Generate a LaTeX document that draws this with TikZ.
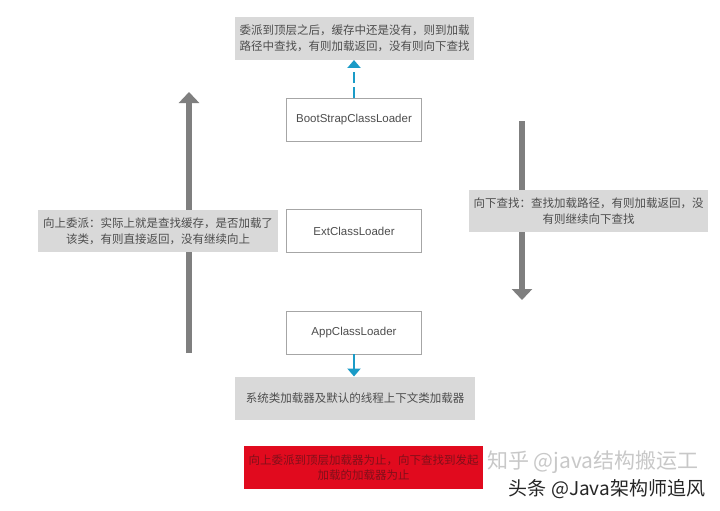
\documentclass[tikz,border=0pt]{standalone}
\usepackage{fontspec}
\setmainfont{Liberation Sans}
\newfontfamily\cjk{Noto Sans CJK SC}
\usetikzlibrary{arrows.meta}
\definecolor{boxgrey}{HTML}{D9D9D9}
\definecolor{txtgrey}{HTML}{4D4D4D}
\definecolor{linegrey}{HTML}{A6A6A6}
\definecolor{arrowgrey}{HTML}{7F7F7F}
\definecolor{cyanone}{HTML}{1A9BC7}
\definecolor{redone}{HTML}{E10A1E}
\definecolor{darkredtxt}{HTML}{80101A}
\definecolor{wmgrey}{HTML}{C8C8C8}
\definecolor{wmdark}{HTML}{262626}
\begin{document}
\begin{tikzpicture}[x=1pt,y=-1pt,
  every node/.style={inner sep=0pt, outer sep=0pt},
  greybox/.style={fill=boxgrey, text=txtgrey, font=\cjk\fontsize{11.5}{15.5}\selectfont, align=center, minimum height=43pt},
  loaderbox/.style={draw=linegrey, line width=0.9pt, fill=white, text=txtgrey, font=\fontsize{11.5}{14}\selectfont, minimum width=135pt, minimum height=43pt},
  bigarrow/.style={draw=arrowgrey, line width=6pt, -{Triangle[width=20pt,length=11pt]}},
  cyanarrow/.style={draw=cyanone, line width=2pt, -{Triangle[width=13pt,length=8pt]}},
  wmark/.style={font=\cjk\fontsize{19}{19}\selectfont}
]
\useasboundingbox (0,0) rectangle (720,511);
\fill[white] (0,0) rectangle (720,511);

% big grey arrows
\coordinate (lb) at (189,353);
\coordinate (lt) at (189,92);
\draw[bigarrow] (lb) -- (lt);
\coordinate (rt) at (522,121);
\coordinate (rb) at (522,300);
\draw[bigarrow] (rt) -- (rb);

% boxes
\node[greybox, minimum width=239pt] (top) at (354.5,38.5) {委派到顶层之后，缓存中还是没有，则到加载\\路径中查找，有则加载返回，没有则向下查找};
\node[loaderbox] (boot) at (354,119.5) {BootStrapClassLoader};
\node[loaderbox] (ext) at (354,231) {ExtClassLoader};
\node[loaderbox] (app) at (354,332.5) {AppClassLoader};
\node[greybox, minimum width=240pt] (sys) at (355,398) {系统类加载器及默认的线程上下文类加载器};
\node[greybox, minimum width=240pt, minimum height=42pt] (left) at (158,231) {向上委派：实际上就是查找缓存，是否加载了\\该类，有则直接返回，没有继续向上};
\node[greybox, minimum width=239pt, minimum height=42pt] (right) at (588.5,211) {向下查找：查找加载路径，有则加载返回，没\\有则继续向下查找};
\node[greybox, fill=redone, text=darkredtxt, minimum width=239pt] (red) at (363.5,467.5) {向上委派到顶层加载器为止，向下查找到发起\\加载的加载器为止};

% cyan arrows
\draw[cyanarrow, dash pattern=on 11pt off 4pt] (boot.north) -- (boot.north |- top.south);
\draw[cyanarrow] (app.south) -- (app.south |- sys.north);

% watermarks
\node[wmark, text=wmgrey, font=\cjk\fontsize{21}{21}\selectfont] (wm1) at (593,462) {知乎 @java结构搬运工};
\node[wmark, text=wmdark] (wm2) at (607,489) {头条 @Java架构师追风};
\end{tikzpicture}
\end{document}
